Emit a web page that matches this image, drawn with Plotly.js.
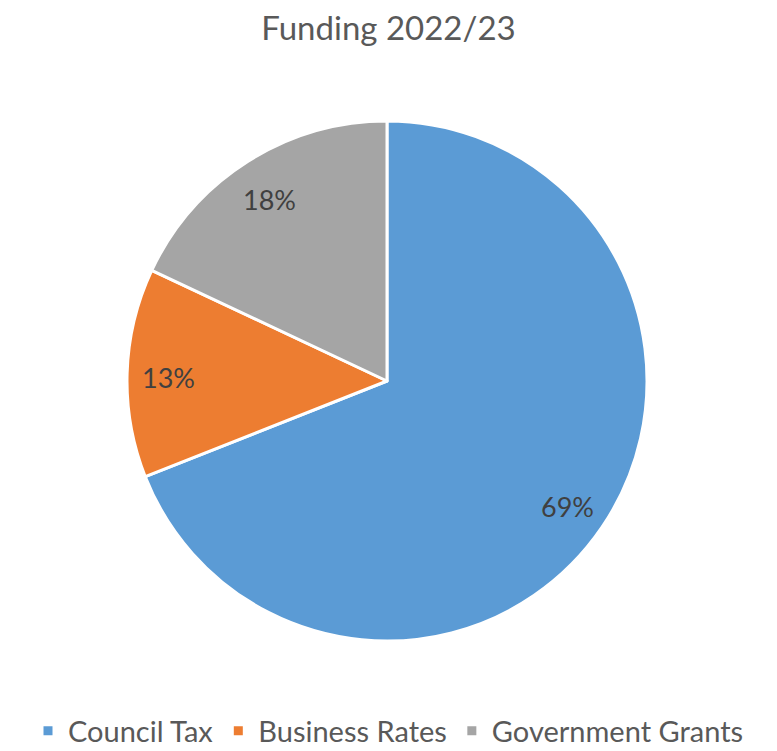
<!DOCTYPE html>
<html>
<head>
<meta charset="utf-8">
<script src="https://cdn.plot.ly/plotly-3.0.1.min.js"></script>
<style>html,body{margin:0;padding:0;background:#fff;}#chart{width:777px;height:751px;}</style>
</head>
<body>
<div id="chart"></div>
<script>
const categories = ["Council Tax", "Business Rates", "Government Grants"];
const shares = [69, 13, 18];
const colors = ["#5B9BD5", "#ED7D31", "#A5A5A5"];
const chartTitle = "Funding 2022/23";

const W = 777, H = 751;
const margin = {l: 0, r: 0, t: 121, b: 110, autoexpand: false};
const plotW = W - margin.l - margin.r, plotH = H - margin.t - margin.b;
const domainX = [127 / plotW, 647 / plotW];
const domainY = [0, 1];
const labelRadiusFrac = 0.84;
const FONT = "Lato, 'Open Sans', sans-serif";

// label positions derived from the data (mid-angle of each slice, clockwise from 12 o'clock)
const total = shares.reduce((a, b) => a + b, 0);
const cxPx = (domainX[0] + domainX[1]) / 2 * plotW;
const cyPx = (domainY[0] + domainY[1]) / 2 * plotH;
const Rpx = Math.min((domainX[1] - domainX[0]) * plotW, (domainY[1] - domainY[0]) * plotH) / 2;
let cum = 0;
const annotations = shares.map((v) => {
  const mid = (cum + v / 2) / total * 2 * Math.PI;
  cum += v;
  const px = cxPx + labelRadiusFrac * Rpx * Math.sin(mid);
  const py = cyPx + labelRadiusFrac * Rpx * Math.cos(mid) - 3;
  return {
    xref: "paper", yref: "paper", x: px / plotW, y: py / plotH,
    xanchor: "center", yanchor: "middle", showarrow: false,
    text: Math.round(v / total * 100) + "%",
    font: {family: FONT, size: 27, color: "#404040"}
  };
});

const trace = {
  type: "pie",
  labels: categories,
  values: shares,
  sort: false,
  direction: "clockwise",
  rotation: 0,
  domain: {x: domainX, y: domainY},
  marker: {colors: colors, line: {color: "#ffffff", width: 3}},
  textinfo: "none",
  hoverinfo: "label+percent"
};

const layout = {
  width: W, height: H,
  margin: margin,
  paper_bgcolor: "#ffffff",
  font: {family: FONT, color: "#595959"},
  title: {text: chartTitle, x: 0.5, xanchor: "center", y: 1 - 28 / H, yanchor: "middle",
          font: {size: 33, color: "#595959", family: FONT}},
  showlegend: true,
  legend: {orientation: "h", x: 0.5, xanchor: "center", y: -(731 - (H - margin.b)) / plotH, yanchor: "middle",
           font: {size: 29, color: "#595959", family: FONT}, traceorder: "normal"},
  annotations: annotations
};

Plotly.newPlot("chart", [trace], layout, {displayModeBar: false, staticPlot: true});
</script>
</body>
</html>
